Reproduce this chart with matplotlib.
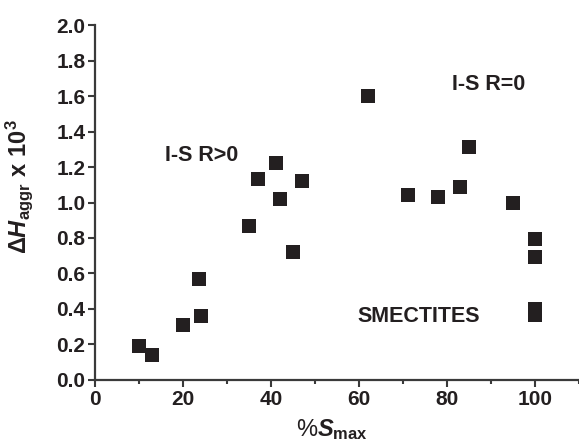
import matplotlib
matplotlib.use('Agg')
import matplotlib.pyplot as plt
from matplotlib.ticker import MultipleLocator, FormatStrFormatter

plt.rcParams['font.family'] = ['Liberation Sans', 'DejaVu Sans']
plt.rcParams['font.weight'] = 'bold'
plt.rcParams['mathtext.fontset'] = 'custom'
plt.rcParams['mathtext.rm'] = 'Liberation Sans:bold'
plt.rcParams['mathtext.it'] = 'Liberation Sans:italic:bold'
plt.rcParams['mathtext.bf'] = 'Liberation Sans:bold'
plt.rcParams['mathtext.sf'] = 'Liberation Sans'

# % smectite layers vs aggregate enthalpy (x 10^3)
s_max = [10, 13, 20, 23.5, 24, 35, 37, 41, 42, 45, 47,
         62, 71, 78, 83, 85, 95, 100, 100, 100, 100]
dh_aggr = [0.19, 0.14, 0.31, 0.57, 0.36, 0.87, 1.13, 1.22, 1.02, 0.72, 1.12,
           1.60, 1.045, 1.03, 1.085, 1.315, 1.00, 0.795, 0.695, 0.40, 0.365]

ink = '#231f20'

fig = plt.figure(figsize=(5.79, 4.42), dpi=100)
ax = fig.add_axes([0.1646, 0.1403, 0.8354, 0.8031])

ax.plot(s_max, dh_aggr, linestyle='none', marker='s', markersize=9.5,
        color=ink, markeredgewidth=0)

ax.set_xlim(0, 110)
ax.set_ylim(0, 2.0)
ax.xaxis.set_major_locator(MultipleLocator(20))
ax.xaxis.set_minor_locator(MultipleLocator(10))
ax.yaxis.set_major_locator(MultipleLocator(0.2))
ax.yaxis.set_major_formatter(FormatStrFormatter('%.1f'))

for side in ['top', 'right']:
    ax.spines[side].set_visible(False)
for side in ['left', 'bottom']:
    ax.spines[side].set_color('#3a3a3a')
    ax.spines[side].set_linewidth(1.6)

ax.tick_params(which='major', length=5, width=1.5, color='#3a3a3a',
               labelsize=15, labelcolor=ink, pad=2)
ax.tick_params(which='minor', length=3, width=1.5, color='#3a3a3a')
ax.tick_params(axis='y', which='minor', left=False)

ax.set_xlabel(r'%$\mathit{S}_{\mathrm{max}}$', fontsize=17, color=ink)
ax.xaxis.set_label_coords(0.49, -0.105)
ax.set_ylabel(r'$\mathsf{\Delta}\mathit{H}_{\mathrm{aggr}}\ \mathrm{x\ 10}^{3}$',
              fontsize=17, color=ink)
ax.yaxis.set_label_coords(-0.125, 0.545)

ax.text(15.8, 1.265, 'I-S R>0', fontsize=15.5, color=ink, va='center')
ax.text(81.2, 1.665, 'I-S R=0', fontsize=15.5, color=ink, va='center')
ax.text(59.7, 0.355, 'SMECTITES', fontsize=15.5, color=ink, va='center')

fig.savefig('out.png', dpi=100)
